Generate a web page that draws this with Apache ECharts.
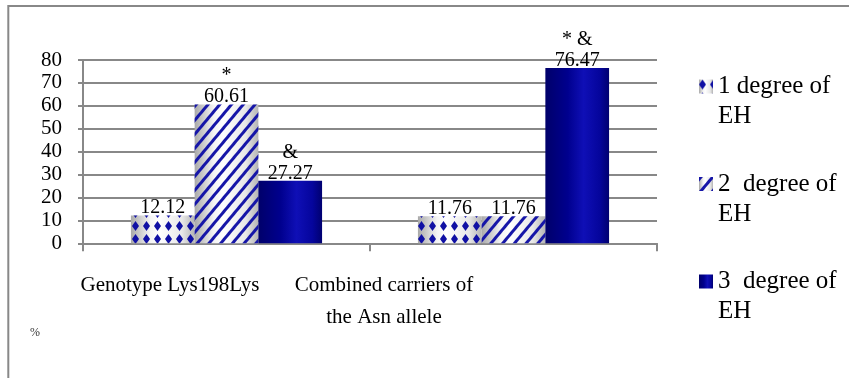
<!DOCTYPE html>
<html>
<head>
<meta charset="utf-8">
<script src="https://cdn.jsdelivr.net/npm/echarts@6/dist/echarts.min.js"></script>
<style>
  html, body { margin: 0; padding: 0; background: #ffffff; }
  #chart { width: 849px; height: 378px; }
</style>
</head>
<body>
<div id="chart"></div>
<script>
// Share of patients (%) by degree of essential hypertension (EH)
const categories = ['Genotype Lys198Lys', 'Combined carriers of\nthe Asn allele'];
const seriesNames = ['1 degree of\nEH', '2  degree of\nEH', '3  degree of\nEH'];
const degree1 = [12.12, 11.76];
const degree2 = [60.61, 11.76];
const degree3 = [27.27, 76.47];
// significance marks printed above the values
const marks1 = ['', ''];
const marks2 = ['*', ''];
const marks3 = ['&', '* &'];
const yMin = 0, yMax = 80, yStep = 10;
const unitLabel = '%';

const FONT = '"Liberation Serif", "Times New Roman", serif';
const GRID_GREY = '#888888';

// cylinder-like shading for the patterned bars
const lightShade = new echarts.graphic.LinearGradient(0, 0, 1, 0, [
  { offset: 0, color: '#a9a9a9' },
  { offset: 0.3, color: '#f4f4f4' },
  { offset: 0.45, color: '#ffffff' },
  { offset: 0.8, color: '#e8e8e8' },
  { offset: 1, color: '#b4b4b4' }
]);
const navyShade = new echarts.graphic.LinearGradient(0, 0, 1, 0, [
  { offset: 0, color: '#00006a' },
  { offset: 0.35, color: '#00008e' },
  { offset: 0.6, color: '#0f0fb6' },
  { offset: 0.85, color: '#05059c' },
  { offset: 1, color: '#000070' }
]);

function makeLabel(marks) {
  return {
    show: true,
    position: 'top',
    distance: -3,
    fontFamily: FONT,
    fontSize: 20,
    lineHeight: 21,
    color: '#000',
    formatter: function (p) {
      const m = marks[p.dataIndex];
      return m ? m + '\n' + p.value : String(p.value);
    }
  };
}

const option = {
  animation: false,
  backgroundColor: '#ffffff',
  title: {
    text: unitLabel,
    left: 30,
    top: 327,
    padding: 0,
    textStyle: { fontFamily: FONT, fontSize: 12, fontWeight: 'normal', color: '#333' }
  },
  graphic: [{
    type: 'rect',
    silent: true,
    z: -10,
    shape: { x: 8.3, y: 6, width: 1000, height: 1000 },
    style: { fill: 'none', stroke: GRID_GREY, lineWidth: 2 }
  }],
  legend: {
    orient: 'vertical',
    left: 699,
    top: 41.5,
    padding: 0,
    itemGap: 7.5,
    itemWidth: 14,
    itemHeight: 14,
    icon: 'rect',
    // a leading blank line keeps the marker level with the first text line
    formatter: function (name) { return '\n' + name; },
    textStyle: {
      fontFamily: FONT,
      fontSize: 25,
      lineHeight: 30,
      color: '#000'
    },
    data: seriesNames
  },
  grid: { left: 83, right: 192, top: 60, bottom: 134.7, containLabel: false },
  xAxis: {
    type: 'category',
    data: categories,
    boundaryGap: true,
    axisLine: { show: true, lineStyle: { color: GRID_GREY, width: 2 } },
    axisTick: { show: true, length: 8, lineStyle: { color: GRID_GREY, width: 2 } },
    axisLabel: {
      margin: 26,
      interval: 0,
      fontFamily: FONT,
      fontSize: 21,
      color: '#000',
      formatter: function (value, index) {
        return value.split('\n').map(function (line) { return '{c' + index + '|' + line + '}'; }).join('\n');
      },
      rich: {
        c0: { fontFamily: FONT, fontSize: 21, lineHeight: 32, color: '#000', padding: [0, 113, 0, 0] },
        c1: { fontFamily: FONT, fontSize: 21, lineHeight: 32, color: '#000', padding: [0, 259, 0, 0] }
      }
    }
  },
  yAxis: {
    type: 'value',
    min: yMin,
    max: yMax,
    interval: yStep,
    axisLine: { show: true, lineStyle: { color: GRID_GREY, width: 2 } },
    axisTick: { show: true, length: 5, lineStyle: { color: GRID_GREY, width: 2 } },
    axisLabel: { margin: 21, fontFamily: FONT, fontSize: 21, color: '#000' },
    splitLine: { show: true, lineStyle: { color: GRID_GREY, width: 2 } }
  },
  series: [
    {
      name: seriesNames[0],
      type: 'bar',
      data: degree1,
      barGap: '0%',
      barCategoryGap: '33.4%',
      itemStyle: {
        color: lightShade,
        decal: {
          symbol: 'diamond',
          symbolSize: 1,
          symbolKeepAspect: false,
          color: '#1010a4',
          dashArrayX: [7, 4],
          dashArrayY: [10, 3],
          rotation: 0
        }
      },
      label: makeLabel(marks1)
    },
    {
      name: seriesNames[1],
      type: 'bar',
      data: degree2,
      barGap: '0%',
      barCategoryGap: '33.4%',
      itemStyle: {
        color: lightShade,
        decal: {
          symbol: 'rect',
          symbolSize: 1,
          color: '#1616a8',
          dashArrayX: [1, 0],
          dashArrayY: [2.5, 5.5],
          rotation: -50 * Math.PI / 180
        }
      },
      label: makeLabel(marks2)
    },
    {
      name: seriesNames[2],
      type: 'bar',
      data: degree3,
      barGap: '0%',
      barCategoryGap: '33.4%',
      itemStyle: { color: navyShade },
      label: makeLabel(marks3)
    }
  ]
};

const chart = echarts.init(document.getElementById('chart'), null, { renderer: 'canvas' });
chart.setOption(option);
</script>
</body>
</html>
